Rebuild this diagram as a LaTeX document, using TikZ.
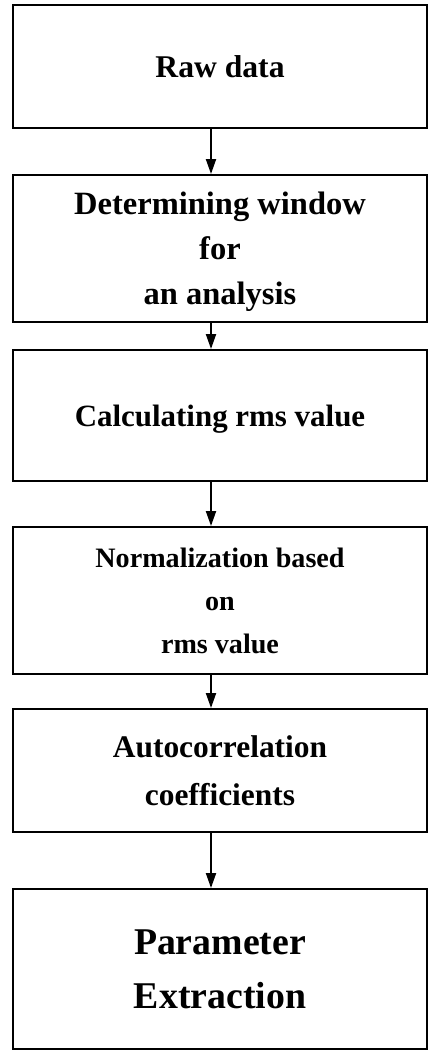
\documentclass[tikz,border=0pt]{standalone}
\usepackage{fontspec}
\setmainfont{Liberation Serif}
\usepackage{tikz}
\usetikzlibrary{arrows.meta}

\tikzset{
    box/.style={draw, line width=1.1pt, minimum width=8.28cm, align=center, text depth=0pt},
    flow/.style={line width=1.1pt, -{Triangle[length=0.3cm,width=0.2cm]}}
}

\begin{document}
\begin{tikzpicture}
            \useasboundingbox (0, 0) rectangle (8.58, -21.02);

            \node[box, minimum height=2.46cm, font={\fontsize{18}{25}\selectfont\bfseries}] (raw) at (4.4, -1.33) {Raw data};
            \node[box, minimum height=2.94cm, font={\fontsize{18.5}{25.5}\selectfont\bfseries}] (window) at (4.4, -4.97) {Determining window\\for\\an analysis};
            \node[box, minimum height=2.62cm, font={\fontsize{17.6}{25}\selectfont\bfseries}] (rms) at (4.4, -8.31) {Calculating rms value};
            \node[box, minimum height=2.94cm, font={\fontsize{16}{24.4}\selectfont\bfseries}] (norm) at (4.4, -12.01) {Normalization based\\on\\rms value};
            \node[box, minimum height=2.46cm, font={\fontsize{17.9}{27}\selectfont\bfseries}] (auto) at (4.4, -15.41) {Autocorrelation\\coefficients};
            \node[box, minimum height=3.2cm, font={\fontsize{21.5}{31}\selectfont\bfseries}] (param) at (4.4, -19.38) {Parameter\\Extraction};

            % arrows between the steps, a little left of centre
            \draw[flow] ([xshift=-0.18cm]raw.south) -- ([xshift=-0.18cm]window.north);
            \draw[flow] ([xshift=-0.18cm]window.south) -- ([xshift=-0.18cm]rms.north);
            \draw[flow] ([xshift=-0.18cm]rms.south) -- ([xshift=-0.18cm]norm.north);
            \draw[flow] ([xshift=-0.18cm]norm.south) -- ([xshift=-0.18cm]auto.north);
            \draw[flow] ([xshift=-0.18cm]auto.south) -- ([xshift=-0.18cm]param.north);
        \end{tikzpicture}
\end{document}
